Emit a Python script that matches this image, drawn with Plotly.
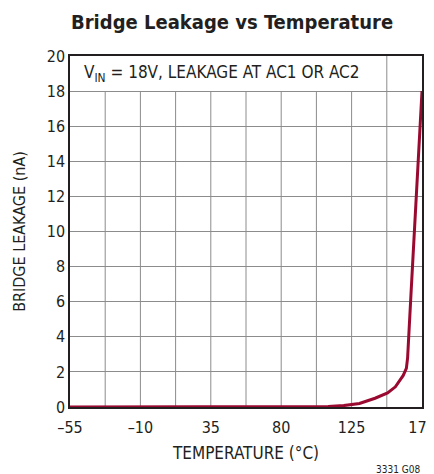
import plotly.graph_objects as go

temperature = [-55, -10, 35, 80, 100, 110, 120, 125, 130, 140, 148, 153, 156, 158,
               160, 160.8, 163, 165.5, 168, 170]
leakage = [0, 0, 0, 0, 0.01, 0.03, 0.08, 0.12, 0.2, 0.5, 0.8, 1.15, 1.5, 1.8,
           2.2, 2.8, 6.5, 10.5, 14.7, 18]

x_ticks = [-55, -10, 35, 80, 125, 170]
x_tick_labels = ["\u201355", "\u201310", "35", "80", "125", "170"]
y_ticks = list(range(0, 21, 2))

FONT = "DejaVu Sans Condensed, Roboto, Liberation Sans, sans-serif"

fig = go.Figure(go.Scatter(
    x=temperature,
    y=leakage,
    mode="lines",
    line=dict(color="#9a0a30", width=3),
    showlegend=False,
))

# page body has an 8px margin, so the figure is sized/margined to compensate
fig.update_layout(
    width=426,
    height=466,
    margin=dict(l=62, r=12, t=48, b=67, autoexpand=False),
    paper_bgcolor="white",
    plot_bgcolor="white",
    font=dict(family=FONT, size=16, color="#231f20"),
    title=dict(
        text="<b>Bridge Leakage vs Temperature</b>",
        x=0.526, xanchor="center", y=0.97, yanchor="middle",
        font=dict(family=FONT, size=20, color="#231f20"),
    ),
)

fig.update_xaxes(
    range=[-55, 170],
    tickvals=x_ticks,
    ticktext=x_tick_labels,
    showgrid=False,
    zeroline=False,
    showline=True, mirror=True, linecolor="#231f20", linewidth=1.5,
    ticks="",
    ticklabelstandoff=5,
    ticklabeloverflow="allow",
    automargin=False,
    title=dict(text="TEMPERATURE (°C)", standoff=11, font=dict(size=17)),
)
fig.update_yaxes(
    range=[0, 20],
    tickvals=y_ticks,
    showgrid=True, gridcolor="#8c8c8c", gridwidth=1,
    zeroline=False,
    showline=True, mirror=True, linecolor="#231f20", linewidth=1.5,
    ticks="",
    automargin=False,
    title=dict(text="BRIDGE LEAKAGE (nA)", standoff=17, font=dict(size=16)),
)

# vertical grid every 22.5 °C (half of labelled step)
for i in range(1, 10):
    xv = -55 + 22.5 * i
    fig.add_shape(type="line", xref="x", yref="y", x0=xv, x1=xv, y0=0, y1=20,
                  line=dict(color="#8c8c8c", width=1), layer="below")

# white label box across top row
fig.add_shape(type="rect", xref="x", yref="y", x0=-55, x1=132, y0=18, y1=20,
              fillcolor="white", line=dict(width=0), layer="below")
fig.add_annotation(
    x=-47.3, y=19, xref="x", yref="y", xanchor="left", yanchor="middle",
    text="V<sub>IN</sub> = 18V, LEAKAGE AT AC1 OR AC2",
    showarrow=False, font=dict(size=17),
)
fig.add_annotation(
    x=1.0, y=-0.177, xref="paper", yref="paper", xanchor="right", yanchor="middle",
    text="3331 G08", showarrow=False, font=dict(size=10),
)

fig.write_html("out.html")
